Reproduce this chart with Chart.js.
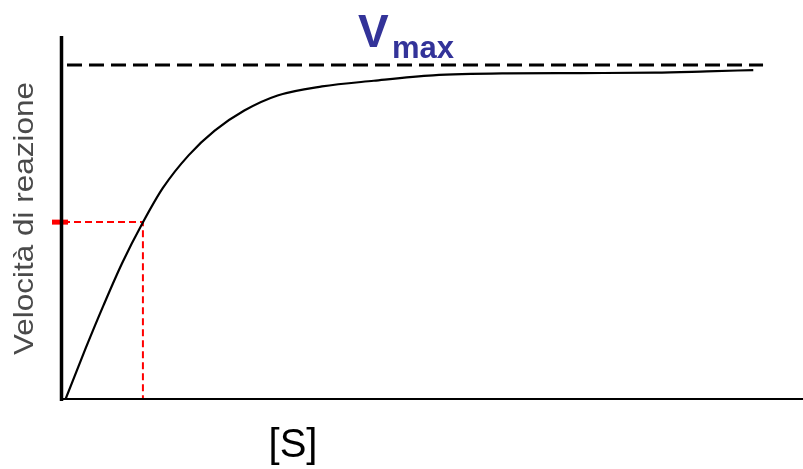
<!DOCTYPE html>
<html>
<head>
<meta charset="utf-8">
<script src="https://cdn.jsdelivr.net/npm/chart.js@4"></script>
<style>
  html, body { margin: 0; padding: 0; background: #fff; }
  #wrap { width: 803px; height: 469px; position: relative; }
</style>
</head>
<body>
<div id="wrap"><canvas id="c"></canvas></div>
<script>
// ---- data ----
const sConc = [0.03, 0.3, 0.55, 0.8, 1.077, 1.35, 1.7, 2.05, 2.45, 2.9, 3.5, 4.2, 5.0, 6.0, 7.0, 8.0, 8.7, 9.328];
const rate  = [0, 0.151, 0.284, 0.409, 0.529, 0.633, 0.731, 0.804, 0.864, 0.909, 0.936, 0.953, 0.969, 0.975, 0.976, 0.977, 0.981, 0.985];
const vmax = 1;
const vmaxRange = [0.054, 9.46];
const halfRate = 0.531;
const kmConc = 1.08;
const tickRange = [-0.149, 0.068];
const xRange = [0, 10];
const yRange = [0, 1.0866];
const yLabel = 'Velocità di reazione';
const xLabel = '[S]';
const vmaxMain = 'V';
const vmaxSub = 'max';

const curve = sConc.map((s, i) => ({ x: s, y: rate[i] }));

const decor = {
  id: 'decor',
  afterDatasetsDraw(chart) {
    const ctx = chart.ctx;
    const xs = chart.scales.x, ys = chart.scales.y;
    const x0 = xs.getPixelForValue(0), y0 = ys.getPixelForValue(0);
    ctx.save();
    // axes
    ctx.strokeStyle = '#000';
    ctx.lineWidth = 3.5;
    ctx.beginPath();
    ctx.moveTo(x0 - 1.5, chart.chartArea.top);
    ctx.lineTo(x0 - 1.5, y0 + 1);
    ctx.stroke();
    ctx.lineWidth = 2;
    ctx.beginPath();
    ctx.moveTo(x0 - 3, y0 - 1);
    ctx.lineTo(chart.chartArea.right, y0 - 1);
    ctx.stroke();
    // Vmax label
    ctx.fillStyle = '#333399';
    ctx.textBaseline = 'alphabetic';
    ctx.textAlign = 'left';
    ctx.font = 'bold 46px "Liberation Sans", Arial, sans-serif';
    ctx.fillText(vmaxMain, 358, 47);
    ctx.font = 'bold 31px "Liberation Sans", Arial, sans-serif';
    ctx.fillText(vmaxSub, 392, 58);
    // x label
    ctx.fillStyle = '#000';
    ctx.textAlign = 'center';
    ctx.font = '40px "Liberation Sans", Arial, sans-serif';
    ctx.fillText(xLabel, 293, 457);
    // y label
    ctx.fillStyle = '#4a4a4a';
    ctx.font = '28px "Liberation Sans", Arial, sans-serif';
    ctx.translate(33, 218.5);
    ctx.rotate(-Math.PI / 2);
    const w = ctx.measureText(yLabel).width;
    ctx.scale(273 / w, 1);
    ctx.textAlign = 'center';
    ctx.fillText(yLabel, 0, 0);
    ctx.restore();
  }
};

new Chart(document.getElementById('c'), {
  type: 'line',
  data: {
    datasets: [
      {
        label: 'curve',
        data: curve,
        borderColor: '#000',
        borderWidth: 2.2,
        pointRadius: 0,
        cubicInterpolationMode: 'monotone',
        fill: false
      },
      {
        label: 'vmax',
        data: [{ x: vmaxRange[0], y: vmax }, { x: vmaxRange[1], y: vmax }],
        borderColor: '#000',
        borderWidth: 3,
        borderDash: [15, 7],
        pointRadius: 0,
        fill: false
      },
      {
        label: 'half',
        data: [{ x: 0, y: halfRate }, { x: kmConc, y: halfRate }, { x: kmConc, y: 0 }],
        borderColor: '#ff0000',
        borderWidth: 2,
        borderDash: [7, 4],
        pointRadius: 0,
        tension: 0,
        fill: false
      },
      {
        label: 'tick',
        data: [{ x: tickRange[0], y: halfRate }, { x: tickRange[1], y: halfRate }],
        borderColor: '#ff0000',
        borderWidth: 5,
        pointRadius: 0,
        clip: false,
        fill: false
      }
    ]
  },
  options: {
    responsive: true,
    maintainAspectRatio: false,
    animation: false,
    layout: { padding: { left: 63, right: 0, top: 36, bottom: 69 } },
    plugins: { legend: { display: false }, tooltip: { enabled: false }, title: { display: false } },
    scales: {
      x: { type: 'linear', min: xRange[0], max: xRange[1], display: false },
      y: { type: 'linear', min: yRange[0], max: yRange[1], display: false }
    }
  },
  plugins: [decor]
});
</script>
</body>
</html>
